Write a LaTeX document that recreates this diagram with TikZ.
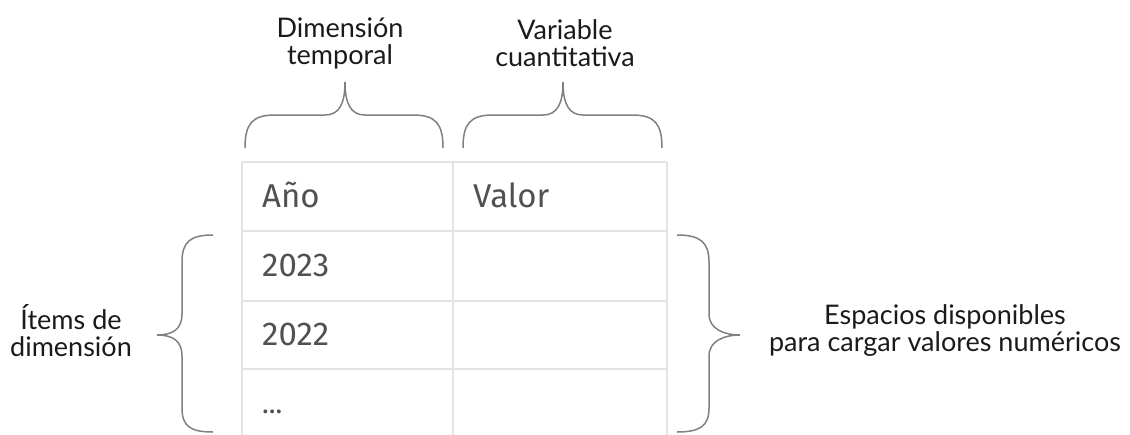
\documentclass[tikz,border=0pt]{standalone}
\usepackage{fontspec}
\newfontfamily\labfont{Lato}
\newfontfamily\tabfont{Fira Sans}
\definecolor{gridgray}{HTML}{E3E3E3}
\definecolor{bracegray}{HTML}{808080}
\definecolor{tabtext}{HTML}{505154}
\definecolor{labtext}{HTML}{1A1A1A}
\tikzset{
  grid line/.style={draw=gridgray, line width=2.5pt},
  bracepath/.style={draw=bracegray, line width=1.5pt},
  lab/.style={font=\labfont\fontsize{27}{27}\selectfont, text=labtext, align=center, inner sep=0pt},
  cell/.style={font=\tabfont\fontsize{33}{33}\selectfont, text=tabtext, anchor=base west, inner sep=0pt},
}
\begin{document}
\begin{tikzpicture}[x=1pt, y=-1pt]
\useasboundingbox (0,0) rectangle (1130,434);
% table grid
\draw[grid line] (242,162) -- (667,162);
\draw[grid line] (242,231) -- (667,231);
\draw[grid line] (242,301) -- (667,301);
\draw[grid line] (242,369) -- (667,369);
\draw[grid line] (242,162) -- (242,436);
\draw[grid line] (453,162) -- (453,436);
\draw[grid line] (667,162) -- (667,436);
% cell texts
\node[cell] (hano) at (262,207) {Año};
\node[cell] (hvalor) at (473,207) {Valor};
\node[cell] (r1) at (262,276) {2023};
\node[cell] (r2) at (262,345) {2022};
\node[cell, font=\tabfont\fontsize{28}{28}\selectfont] (r3) at (262,413) {...};
% labels
\node[lab] (ltemp) at (340,43) {Dimensión\\temporal};
\node[lab] (lvar) at (565,43) {Variable\\cuantitativa};
\node[lab] (litems) at (71,331) {Ítems de\\dimensión};
\node[lab] (lesp) at (945,331) {Espacios disponibles\\para cargar valores numéricos};
% top braces
\draw[bracepath] (245,148) .. controls (245,124) and (252,115) .. (275,115) -- (325,115)
  .. controls (339,115) and (345,104) .. (345,82)
  .. controls (345,104) and (351,115) .. (365,115) -- (413,115)
  .. controls (436,115) and (443,124) .. (443,148);
\draw[bracepath] (463,148) .. controls (463,124) and (470,115) .. (493,115) -- (543,115)
  .. controls (557,115) and (563,104) .. (563,82)
  .. controls (563,104) and (569,115) .. (583,115) -- (632,115)
  .. controls (655,115) and (662,124) .. (662,148);
% left brace
\draw[bracepath] (213,235) .. controls (190,235) and (182,242) .. (182,262) -- (182,314)
  .. controls (182,329) and (173,335) .. (157,335)
  .. controls (173,335) and (182,341) .. (182,356) -- (182,408)
  .. controls (182,426) and (190,432) .. (213,432);
% right brace
\draw[bracepath] (677,235) .. controls (700,235) and (709,242) .. (709,262) -- (709,314)
  .. controls (709,329) and (724,335) .. (740,335)
  .. controls (724,335) and (709,341) .. (709,356) -- (709,408)
  .. controls (709,426) and (700,432) .. (677,432);
\end{tikzpicture}
\end{document}
